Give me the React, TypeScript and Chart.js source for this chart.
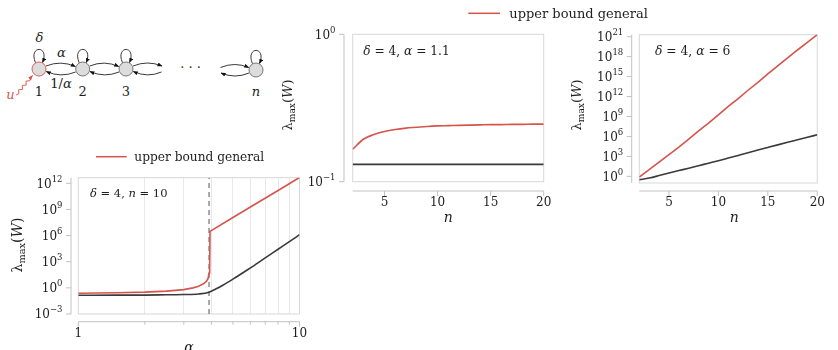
import React, { useEffect, useRef } from 'react';
import { Chart, registerables } from 'chart.js';

Chart.register(...registerables);

const RED = '#d6544c';
const DARK = '#3a3a3a';
const FRAME = '#d8d8d8';
const SPINE = '#c2c2c2';
const TEXT = '#1e1e1e';
const FONT = '"DejaVu Serif", serif';

// ---------- Panel A: lambda_max(W) vs alpha (delta = 4, n = 10) ----------
const alphaUpper = [1, 1.5, 2, 2.5, 3, 3.3, 3.5, 3.7, 3.8, 3.86, 3.9, 3.925, 3.94, 5, 6, 8, 10];
const upperVsAlpha = [0.24, 0.27, 0.32, 0.42, 0.63, 1.0, 1.5, 3.2, 5.8, 12, 50, 150, 3.0e6, 1.2e8, 1.9e9, 1.5e11, 4.7e12];
const alphaExact = [1, 1.5, 2, 2.5, 3, 3.5, 3.9, 4.2, 4.5, 5, 5.5, 6, 7, 8, 9, 10];
const exactVsAlpha = [0.14, 0.145, 0.148, 0.16, 0.17, 0.2, 0.32, 0.79, 2.0, 10, 47, 195, 2.8e3, 2.7e4, 2.0e5, 1.26e6];
const criticalAlpha = [3.9];
const alphaGrid = [1, 2, 3, 4, 5, 6, 7, 8, 9, 10];
const alphaMajor = [1, 10];
const alphaMinor = [2, 3, 4, 5, 6, 7, 8, 9];
const yExpA = [-3, 0, 3, 6, 9, 12];
const yRangeA = [1e-3, 4.4e12];

// ---------- Panel B: lambda_max(W) vs n (delta = 4, alpha = 1.1) ----------
const nValues = [2, 3, 4, 5, 6, 7, 8, 9, 10, 11, 12, 13, 14, 15, 16, 17, 18, 19, 20];
const upperVsN_B = [0.166, 0.194, 0.209, 0.219, 0.226, 0.231, 0.234, 0.237, 0.239, 0.24, 0.241, 0.242, 0.243, 0.244, 0.244, 0.245, 0.245, 0.246, 0.246];
const exactVsN_B = [0.131, 0.131, 0.131, 0.131, 0.131, 0.131, 0.131, 0.131, 0.131, 0.131, 0.131, 0.131, 0.131, 0.131, 0.131, 0.131, 0.131, 0.131, 0.131];
const yExpB = [-1, 0];
const yRangeB = [0.1, 1];

// ---------- Panel C: lambda_max(W) vs n (delta = 4, alpha = 6) ----------
const upperVsN_C = [0.8, 10, 141, 1.8e3, 2.5e4, 4.0e5, 7.1e6, 1.0e8, 1.8e9, 3.2e10, 5.0e11, 8.9e12, 1.4e14, 2.5e15, 4.0e16, 6.3e17, 1.0e19, 1.4e20, 2.0e21];
const exactVsN_C = [0.3, 0.56, 1.3, 3.2, 7.4, 17, 40, 95, 224, 560, 1.4e3, 3.5e3, 8.9e3, 2.2e4, 5.4e4, 1.3e5, 3.1e5, 7.4e5, 1.8e6];
const yExpC = [0, 3, 6, 9, 12, 15, 18, 21];
const yRangeC = [0.1, 2.0e21];
const nTicks = [5, 10, 15, 20];
const nRange = [2, 20];

const legendLabel = 'upper bound general';

type Seg = { t: string; it?: boolean; size?: number; dy?: number };

function segFont(size: number, it?: boolean) {
  return `${it ? 'italic ' : ''}${size}px ${FONT}`;
}

function drawSegs(ctx: CanvasRenderingContext2D, segs: Seg[], x: number, y: number, align: 'left' | 'center' | 'right', base: number, color = TEXT) {
  let w = 0;
  const widths = segs.map((s) => {
    ctx.font = segFont(s.size ?? base, s.it);
    const m = ctx.measureText(s.t).width;
    w += m;
    return m;
  });
  let cx = align === 'left' ? x : align === 'center' ? x - w / 2 : x - w;
  ctx.fillStyle = color;
  ctx.textAlign = 'left';
  ctx.textBaseline = 'alphabetic';
  segs.forEach((s, i) => {
    ctx.font = segFont(s.size ?? base, s.it);
    ctx.fillText(s.t, cx, y + (s.dy ?? 0));
    cx += widths[i];
  });
}

function line(ctx: CanvasRenderingContext2D, x1: number, y1: number, x2: number, y2: number) {
  ctx.beginPath();
  ctx.moveTo(x1, y1);
  ctx.lineTo(x2, y2);
  ctx.stroke();
}

const expText = (e: number) => (e < 0 ? '\u2212' + Math.abs(e) : String(e));

type Spec = {
  yOff: number;
  xOff: number;
  yExp: number[];
  xMajor: number[];
  xMinor: number[];
  note: { segs: Seg[]; x: number; y: number; size: number };
  legend?: { x1: number; x2: number; y: number; tx: number; size: number };
  yTitle: { cx: number; cy: number; size: number };
  xTitle: { t: string; cx: number; y: number; size: number };
};

function decor(spec: Spec) {
  return {
    id: 'decor',
    beforeDatasetsDraw(chart: any) {
      const { ctx, chartArea: a } = chart;
      ctx.save();
      ctx.strokeStyle = FRAME;
      ctx.lineWidth = 1;
      ctx.strokeRect(a.left, a.top, a.right - a.left, a.bottom - a.top);
      ctx.restore();
    },
    afterDraw(chart: any) {
      const { ctx, chartArea: a } = chart;
      const xs = chart.scales.x;
      const ys = chart.scales.y;
      const sx = a.left - spec.yOff;
      const sy = a.bottom + spec.xOff;
      ctx.save();
      ctx.strokeStyle = SPINE;
      ctx.lineWidth = 1;
      line(ctx, sx, a.top, sx, a.bottom);
      line(ctx, a.left, sy, a.right, sy);
      for (const e of spec.yExp) {
        const py = ys.getPixelForValue(Math.pow(10, e));
        ctx.strokeStyle = SPINE;
        line(ctx, sx - 5, py, sx, py);
        drawSegs(ctx, [{ t: '10' }, { t: expText(e), size: 8.5, dy: -5.9 }], sx - 8.5, py + 4.2, 'right', 12);
      }
      ctx.strokeStyle = SPINE;
      for (const v of spec.xMajor) {
        const px = xs.getPixelForValue(v);
        line(ctx, px, sy, px, sy + 5);
      }
      for (const v of spec.xMinor) {
        const px = xs.getPixelForValue(v);
        line(ctx, px, sy, px, sy + 3);
      }
      drawSegs(ctx, spec.note.segs, spec.note.x, spec.note.y, 'left', spec.note.size);
      if (spec.legend) {
        const L = spec.legend;
        ctx.strokeStyle = RED;
        ctx.lineWidth = 1.5;
        line(ctx, L.x1, L.y, L.x2, L.y);
        drawSegs(ctx, [{ t: legendLabel }], L.tx, L.y + 4.5, 'left', L.size);
      }
      const T = spec.yTitle;
      ctx.save();
      ctx.translate(T.cx, T.cy);
      ctx.rotate(-Math.PI / 2);
      drawSegs(ctx, [
        { t: '\u03bb' },
        { t: 'max', size: T.size * 0.7, dy: 2.5 },
        { t: '(' },
        { t: 'W', it: true },
        { t: ')' },
      ], 0, 4, 'center', T.size);
      ctx.restore();
      const X = spec.xTitle;
      drawSegs(ctx, [{ t: X.t, it: true }], X.cx, X.y, 'center', X.size);
      ctx.restore();
    },
  };
}

function pts(xs: number[], ys: number[]) {
  return xs.map((x, i) => ({ x, y: ys[i] }));
}

function baseOptions(pad: { left: number; top: number; right: number; bottom: number }, xHeight: number, x: any, y: any) {
  return {
    animation: false,
    responsive: false,
    maintainAspectRatio: false,
    layout: { padding: pad },
    plugins: { legend: { display: false }, tooltip: { enabled: false } },
    elements: { point: { radius: 0 } },
    scales: {
      x: {
        afterFit: (s: any) => { s.height = xHeight; },
        border: { display: false },
        ...x,
      },
      y: {
        afterFit: (s: any) => { s.width = 0; },
        border: { display: false },
        grid: { display: false },
        ticks: { display: false },
        ...y,
      },
    },
  };
}

const tickFont = { family: '"DejaVu Serif", serif', size: 12 };

export default function App() {
  const refA = useRef<HTMLCanvasElement>(null);
  const refB = useRef<HTMLCanvasElement>(null);
  const refC = useRef<HTMLCanvasElement>(null);

  useEffect(() => {
    const charts: Chart[] = [];

    // Panel A
    charts.push(new Chart(refA.current!, {
      type: 'line',
      data: {
        datasets: [
          { data: pts(alphaUpper, upperVsAlpha), borderColor: RED, borderWidth: 1.6, pointRadius: 0, tension: 0 },
          { data: pts(alphaExact, exactVsAlpha), borderColor: DARK, borderWidth: 1.6, pointRadius: 0, cubicInterpolationMode: 'monotone' },
          {
            data: [{ x: criticalAlpha[0], y: yRangeA[0] }, { x: criticalAlpha[0], y: yRangeA[1] }],
            borderColor: '#7a7a7a', borderWidth: 1.3, borderDash: [5, 4], pointRadius: 0,
          },
        ],
      },
      options: baseOptions(
        { left: 78.3, top: 177.7, right: 538.5, bottom: 0 }, 36,
        {
          type: 'logarithmic', min: 1, max: 10,
          afterBuildTicks: (s: any) => { s.ticks = alphaGrid.map((v) => ({ value: v })); },
          grid: {
            drawTicks: false, lineWidth: 1,
            color: (c: any) => (c.tick && (c.tick.value === 1 || c.tick.value === 10) ? 'rgba(0,0,0,0)' : '#e8e8e8'),
          },
          ticks: {
            autoSkip: false, maxRotation: 0, padding: 13, color: TEXT, font: tickFont,
            callback: (v: any) => (alphaMajor.includes(Number(v)) ? String(v) : ''),
          },
        },
        { type: 'logarithmic', min: yRangeA[0], max: yRangeA[1] },
      ) as any,
      plugins: [decor({
        yOff: 7.3, xOff: 7.7, yExp: yExpA, xMajor: alphaMajor, xMinor: alphaMinor,
        note: { segs: [{ t: '\u03b4', it: true }, { t: ' = 4, ' }, { t: 'n', it: true }, { t: ' = 10' }], x: 90, y: 196.7, size: 11.5 },
        legend: { x1: 96, x2: 126.7, y: 156.7, tx: 134.3, size: 12.2 },
        yTitle: { cx: 18, cy: 245, size: 14 },
        xTitle: { t: '\u03b1', cx: 188.9, y: 352, size: 14 },
      })],
    }));

    // Panel B
    charts.push(new Chart(refB.current!, {
      type: 'line',
      data: {
        datasets: [
          { data: pts(nValues, upperVsN_B), borderColor: RED, borderWidth: 1.6, pointRadius: 0, cubicInterpolationMode: 'monotone' },
          { data: pts(nValues, exactVsN_B), borderColor: DARK, borderWidth: 1.8, pointRadius: 0 },
        ],
      },
      options: baseOptions(
        { left: 352.7, top: 34.3, right: 294.3, bottom: 138.3 }, 30,
        {
          type: 'linear', min: nRange[0], max: nRange[1],
          afterBuildTicks: (s: any) => { s.ticks = nTicks.map((v) => ({ value: v })); },
          grid: { display: false, drawTicks: false },
          ticks: { autoSkip: false, maxRotation: 0, padding: 14.4, color: TEXT, font: tickFont },
        },
        { type: 'logarithmic', min: yRangeB[0], max: yRangeB[1] },
      ) as any,
      plugins: [decor({
        yOff: 8.7, xOff: 9.3, yExp: yExpB, xMajor: nTicks, xMinor: [],
        note: { segs: [{ t: '\u03b4', it: true }, { t: ' = 4, ' }, { t: '\u03b1', it: true }, { t: ' = 1.1' }], x: 363.3, y: 55, size: 12.2 },
        legend: { x1: 468.3, x2: 500, y: 13.3, tx: 509.3, size: 13 },
        yTitle: { cx: 288, cy: 105, size: 13 },
        xTitle: { t: 'n', cx: 448.2, y: 222, size: 14 },
      })],
    }));

    // Panel C
    charts.push(new Chart(refC.current!, {
      type: 'line',
      data: {
        datasets: [
          { data: pts(nValues, upperVsN_C), borderColor: RED, borderWidth: 1.6, pointRadius: 0 },
          { data: pts(nValues, exactVsN_C), borderColor: DARK, borderWidth: 1.6, pointRadius: 0, cubicInterpolationMode: 'monotone' },
        ],
      },
      options: baseOptions(
        { left: 639.3, top: 34.7, right: 8.7, bottom: 137 }, 30,
        {
          type: 'linear', min: nRange[0], max: nRange[1],
          afterBuildTicks: (s: any) => { s.ticks = nTicks.map((v) => ({ value: v })); },
          grid: { display: false, drawTicks: false },
          ticks: { autoSkip: false, maxRotation: 0, padding: 13.1, color: TEXT, font: tickFont },
        },
        { type: 'logarithmic', min: yRangeC[0], max: yRangeC[1] },
      ) as any,
      plugins: [decor({
        yOff: 7.6, xOff: 8, yExp: yExpC, xMajor: nTicks, xMinor: [],
        note: { segs: [{ t: '\u03b4', it: true }, { t: ' = 4, ' }, { t: '\u03b1', it: true }, { t: ' = 6' }], x: 655, y: 55, size: 12.3 },
        yTitle: { cx: 577, cy: 105, size: 13 },
        xTitle: { t: 'n', cx: 734.3, y: 222, size: 14 },
      })],
    }));

    return () => { charts.forEach((c) => c.destroy()); };
  }, []);

  const canvasStyle: React.CSSProperties = { position: 'absolute', left: 0, top: 0, width: 838, height: 350 };

  // chain diagram
  const nodeY = 69;
  const nodes = [
    { x: 39, y: nodeY, label: '1', it: false, red: true },
    { x: 82.7, y: nodeY, label: '2', it: false, red: false },
    { x: 126, y: nodeY, label: '3', it: false, red: false },
    { x: 256, y: 70, label: 'n', it: true, red: false },
  ];
  const r = 7;
  const wave: string[] = [];
  {
    const x0 = 16, y0 = 95, x1 = 32.5, y1 = 75.5;
    const steps = 9;
    const dx = x1 - x0, dy = y1 - y0, len = Math.hypot(dx, dy);
    const px = -dy / len, py = dx / len;
    for (let i = 0; i <= steps; i++) {
      const t = i / steps;
      const amp = i === 0 || i >= steps - 1 ? 0 : (i % 2 ? 1.4 : -1.4);
      wave.push(`${(x0 + dx * t + px * amp).toFixed(2)},${(y0 + dy * t + py * amp).toFixed(2)}`);
    }
  }
  const ts: React.CSSProperties = { fontFamily: FONT, fontSize: 13 };

  return (
    <div style={{ position: 'absolute', left: 0, top: 0, width: 838, height: 350, overflow: 'hidden', background: '#fff' }}>
      <svg width={300} height={110} style={{ position: 'absolute', left: 0, top: 0 }}>
        <defs>
          <marker id="ah" viewBox="0 0 10 10" refX="9" refY="5" markerWidth="5" markerHeight="5" orient="auto" markerUnits="userSpaceOnUse">
            <path d="M0,1 L10,5 L0,9 z" fill="#111" />
          </marker>
          <marker id="ahr" viewBox="0 0 10 10" refX="9" refY="5" markerWidth="5" markerHeight="5" orient="auto" markerUnits="userSpaceOnUse">
            <path d="M0,1 L10,5 L0,9 z" fill={RED} />
          </marker>
        </defs>
        <g fill="none" stroke="#222" strokeWidth={0.9}>
          {nodes.map((n, i) => (
            <path key={'l' + i} d={`M${n.x - 3.5},${n.y - 6.2} C${n.x - 11},${n.y - 24} ${n.x + 11},${n.y - 24} ${n.x + 3.5},${n.y - 6.5}`} markerEnd="url(#ah)" />
          ))}
          {[0, 1].map((i) => {
            const a = nodes[i].x, b = nodes[i + 1].x, m = (a + b) / 2;
            return (
              <g key={'k' + i}>
                <path d={`M${a + 7},${nodeY - 3} Q${m},${nodeY - 9} ${b - 7.3},${nodeY - 2.5}`} markerEnd="url(#ah)" />
                <path d={`M${b - 7},${nodeY + 3} Q${m},${nodeY + 9} ${a + 7.3},${nodeY + 2.5}`} markerEnd="url(#ah)" />
              </g>
            );
          })}
          <path d={`M133,${nodeY - 3} Q147.5,${nodeY - 9} 162,${nodeY - 3}`} markerEnd="url(#ah)" />
          <path d={`M161.5,${nodeY + 3} Q147.5,${nodeY + 9} 133.3,${nodeY + 2.5}`} markerEnd="url(#ah)" />
          <path d={`M220.5,${nodeY - 1.5} Q235,${nodeY - 7.5} 248.7,${nodeY - 1.5}`} markerEnd="url(#ah)" />
          <path d={`M249,${nodeY + 4} Q235,${nodeY + 10} 221,${nodeY + 4}`} markerEnd="url(#ah)" />
          <polyline points={wave.join(' ')} stroke={RED} strokeWidth={0.9} markerEnd="url(#ahr)" />
        </g>
        {nodes.map((n, i) => (
          <circle key={'c' + i} cx={n.x} cy={n.y} r={r} fill="#dcdcdc" stroke={n.red ? RED : '#6a6a6a'} strokeWidth={0.9} />
        ))}
        {nodes.map((n, i) => (
          <text key={'t' + i} x={n.x} y={96} textAnchor="middle" style={{ ...ts, fontStyle: n.it ? 'italic' : 'normal' }} fill={TEXT}>{n.label}</text>
        ))}
        <text x={39.5} y={42.3} textAnchor="middle" style={{ ...ts, fontStyle: 'italic' }} fill={TEXT}>{'\u03b4'}</text>
        <text x={61.5} y={57.3} textAnchor="middle" style={{ ...ts, fontStyle: 'italic' }} fill={TEXT}>{'\u03b1'}</text>
        <text x={61} y={88} textAnchor="middle" style={ts} fill={TEXT}>1/<tspan fontStyle="italic">{'\u03b1'}</tspan></text>
        <text x={190.5} y={72} textAnchor="middle" style={ts} fill={TEXT}>{'\u00b7 \u00b7 \u00b7'}</text>
        <text x={10.5} y={99} textAnchor="middle" style={{ ...ts, fontStyle: 'italic' }} fill={RED}>u</text>
      </svg>
      <canvas ref={refA} width={838} height={350} style={canvasStyle} />
      <canvas ref={refB} width={838} height={350} style={canvasStyle} />
      <canvas ref={refC} width={838} height={350} style={canvasStyle} />
    </div>
  );
}
